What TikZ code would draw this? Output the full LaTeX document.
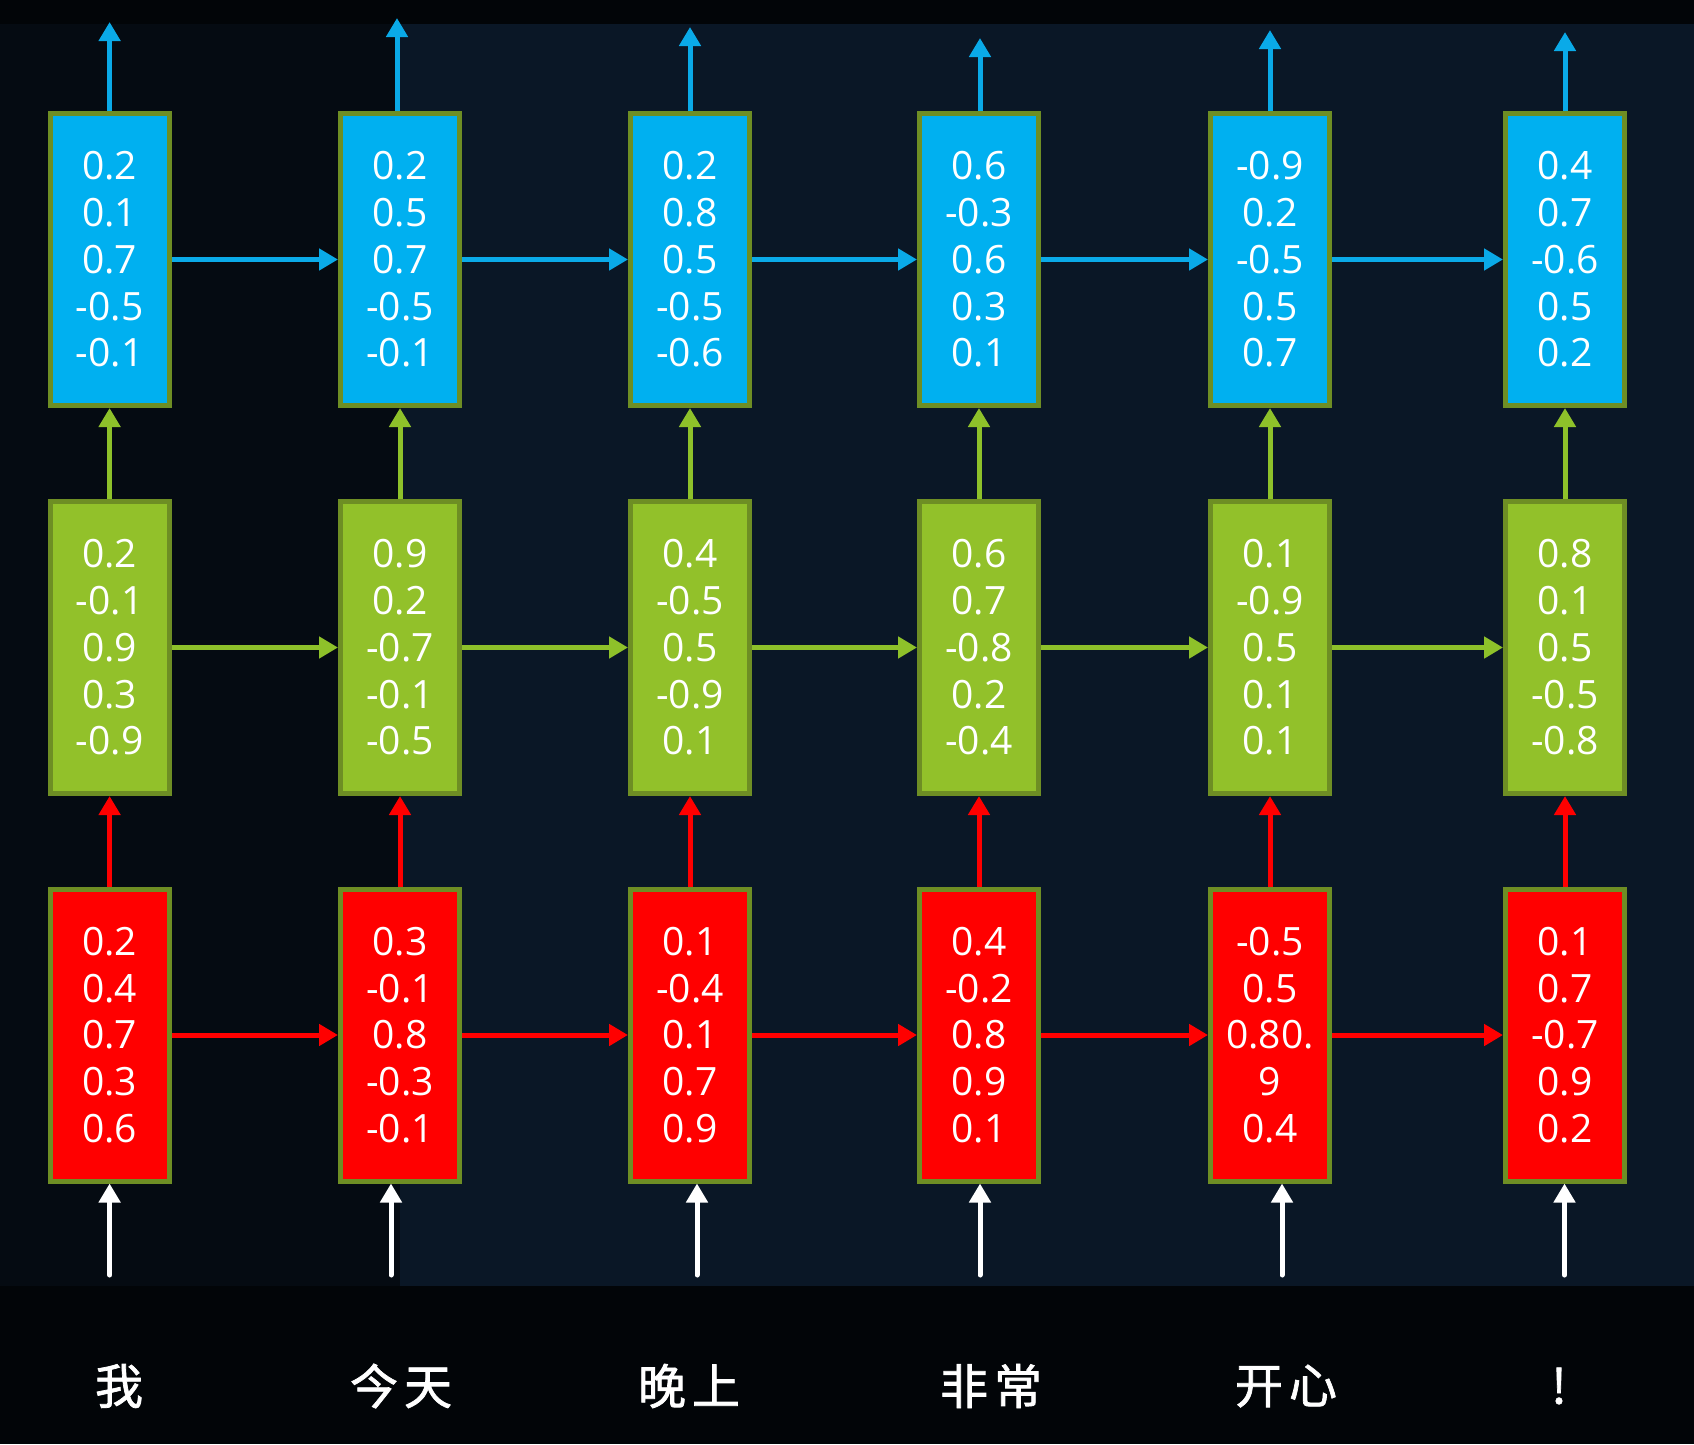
\documentclass[tikz,border=0pt]{standalone}
\usepackage{fontspec}
\setmainfont{Open Sans}
\newfontfamily\cjkfont[FakeBold=1.5]{Noto Sans CJK SC}
\usetikzlibrary{arrows.meta}
\definecolor{bgblack}{HTML}{020508}
\definecolor{bgleft}{HTML}{050B12}
\definecolor{bgnavy}{HTML}{0A1726}
\definecolor{cblue}{HTML}{00B0F0}
\definecolor{cgreen}{HTML}{92C12A}
\definecolor{cred}{HTML}{FF0000}
\definecolor{cborder}{HTML}{6E8E24}
\definecolor{ablue}{HTML}{0AAAE8}
\definecolor{agreen}{HTML}{8EC12A}
\begin{document}
\begin{tikzpicture}[x=1pt,y=-1pt,
  cell/.style={draw=cborder, line width=5pt, minimum width=119pt, minimum height=292pt,
    inner sep=0pt, text=white, align=center, font=\fontsize{39}{46.7}\selectfont},
  bcell/.style={cell, fill=cblue},
  gcell/.style={cell, fill=cgreen},
  rcell/.style={cell, fill=cred},
  arr/.style={line width=5pt, -{Triangle[width=21pt,length=19pt]}},
  warr/.style={arr, white, line cap=round},
  lab/.style={text=white, inner sep=0pt, font=\cjkfont\fontsize{48}{50}\selectfont}]
\useasboundingbox (0,0) rectangle (1694,1444);
\fill[bgblack] (0,0) rectangle (1694,1444);
\fill[bgleft] (0,24) rectangle (400,1286);
\fill[bgnavy] (400,24) rectangle (1694,1286);

% top row (blue)
\node[bcell] (b1) at (109.6,259.5) {0.2\\0.1\\0.7\\-0.5\\-0.1};
\node[bcell] (b2) at (400,259.5) {0.2\\0.5\\0.7\\-0.5\\-0.1};
\node[bcell] (b3) at (690,259.5) {0.2\\0.8\\0.5\\-0.5\\-0.6};
\node[bcell] (b4) at (979,259.5) {0.6\\-0.3\\0.6\\0.3\\0.1};
\node[bcell] (b5) at (1270,259.5) {-0.9\\0.2\\-0.5\\0.5\\0.7};
\node[bcell] (b6) at (1565,259.5) {0.4\\0.7\\-0.6\\0.5\\0.2};

% middle row (green)
\node[gcell] (g1) at (109.6,647.5) {0.2\\-0.1\\0.9\\0.3\\-0.9};
\node[gcell] (g2) at (400,647.5) {0.9\\0.2\\-0.7\\-0.1\\-0.5};
\node[gcell] (g3) at (690,647.5) {0.4\\-0.5\\0.5\\-0.9\\0.1};
\node[gcell] (g4) at (979,647.5) {0.6\\0.7\\-0.8\\0.2\\-0.4};
\node[gcell] (g5) at (1270,647.5) {0.1\\-0.9\\0.5\\0.1\\0.1};
\node[gcell] (g6) at (1565,647.5) {0.8\\0.1\\0.5\\-0.5\\-0.8};

% bottom row (red)
\node[rcell] (r1) at (109.6,1035) {0.2\\0.4\\0.7\\0.3\\0.6};
\node[rcell] (r2) at (400,1035) {0.3\\-0.1\\0.8\\-0.3\\-0.1};
\node[rcell] (r3) at (690,1035) {0.1\\-0.4\\0.1\\0.7\\0.9};
\node[rcell] (r4) at (979,1035) {0.4\\-0.2\\0.8\\0.9\\0.1};
\node[rcell] (r5) at (1270,1035) {-0.5\\0.5\\0.80.\\9\\0.4};
\node[rcell] (r6) at (1565,1035) {0.1\\0.7\\-0.7\\0.9\\0.2};

% output arrow ends
\coordinate (t1) at (109.6,22);
\coordinate (t2) at (397,18);
\coordinate (t3) at (690,27);
\coordinate (t4) at (980,38);
\coordinate (t5) at (1270,30);
\coordinate (t6) at (1565,32);

% input arrow starts
\coordinate (w1) at (109.6,1275);
\coordinate (w2) at (391,1275);
\coordinate (w3) at (697,1275);
\coordinate (w4) at (980,1275);
\coordinate (w5) at (1282,1275);
\coordinate (w6) at (1564.5,1275);

\foreach \i in {1,...,6} {
  \draw[arr, ablue] (b\i.north -| t\i) -- (t\i);
  \draw[arr, agreen] (g\i.north) -- (b\i.south);
  \draw[arr, cred] (r\i.north) -- (g\i.south);
  \draw[warr] (w\i) -- (w\i |- r\i.south);
}
\foreach \i/\j in {1/2,2/3,3/4,4/5,5/6} {
  \draw[arr, ablue] (b\i.east) -- (b\j.west);
  \draw[arr, agreen] (g\i.east) -- (g\j.west);
  \draw[arr, cred] (r\i.east) -- (r\j.west);
}

% labels
\node[lab] (l1) at (119,1386) {我};
\node[lab] (l2) at (401,1386) {今\hspace{6pt}天};
\node[lab] (l3) at (689,1386) {晚\hspace{6pt}上};
\node[lab] (l4) at (991,1386) {非\hspace{6pt}常};
\node[lab] (l5) at (1286,1386) {开\hspace{6pt}心};
\node[lab] (l6) at (1559,1386) {!};
\end{tikzpicture}
\end{document}
